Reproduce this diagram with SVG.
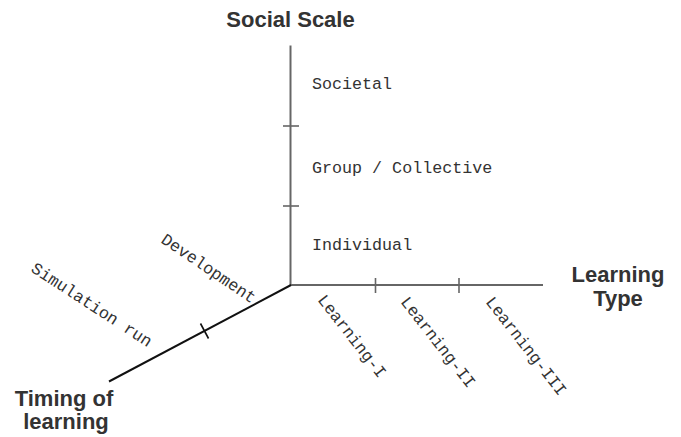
<svg xmlns="http://www.w3.org/2000/svg" width="681" height="437" viewBox="0 0 681 437">
<defs>
<style>
.axis{stroke:#666;stroke-width:2;fill:none}
.diag{stroke:#111;stroke-width:2;fill:none}
.tick{stroke:#666;stroke-width:1.6}
.tickd{stroke:#111;stroke-width:1.6}
.title{font-family:"Liberation Sans",Arial,sans-serif;font-weight:bold;font-size:22px;fill:#333}
.lab{font-family:"Liberation Mono","Courier New",monospace;font-size:16.7px;fill:#333}
</style>
</defs>
<rect width="681" height="437" fill="#fff"/>
<g id="connectors">
<line class="axis" x1="290.5" y1="45.5" x2="290.5" y2="285"/>
<line class="axis" x1="290" y1="285" x2="543" y2="285"/>
<line class="diag" x1="291" y1="285" x2="109" y2="381.5"/>
<line class="tick" x1="283" y1="126" x2="299" y2="126"/>
<line class="tick" x1="283" y1="206" x2="299" y2="206"/>
<line class="tick" x1="375.5" y1="278" x2="375.5" y2="293"/>
<line class="tick" x1="459" y1="278" x2="459" y2="293"/>
<line class="tickd" x1="200.5" y1="323.5" x2="208.5" y2="338.5"/>
</g>
<g id="social-scale"><text class="title" x="290.5" y="27" text-anchor="middle">Social Scale</text></g>
<g id="learning-type"><text class="title" x="618" y="282" text-anchor="middle">Learning</text><text class="title" x="618" y="306" text-anchor="middle">Type</text></g>
<g id="timing"><text class="title" x="64" y="406" text-anchor="middle">Timing of</text><text class="title" x="66" y="429" text-anchor="middle">learning</text></g>
<g id="societal"><text class="lab" x="312" y="89">Societal</text></g>
<g id="group"><text class="lab" x="312" y="173">Group / Collective</text></g>
<g id="individual"><text class="lab" x="312" y="250">Individual</text></g>
<g id="development"><text class="lab" transform="translate(160,242) rotate(34)">Development</text></g>
<g id="simulation"><text class="lab" transform="translate(30,271) rotate(33)">Simulation run</text></g>
<g id="learning-1"><text class="lab" transform="translate(317,300) rotate(52)">Learning-I</text></g>
<g id="learning-2"><text class="lab" transform="translate(400,302) rotate(52)">Learning-II</text></g>
<g id="learning-3"><text class="lab" transform="translate(485,302) rotate(52)">Learning-III</text></g>
</svg>
